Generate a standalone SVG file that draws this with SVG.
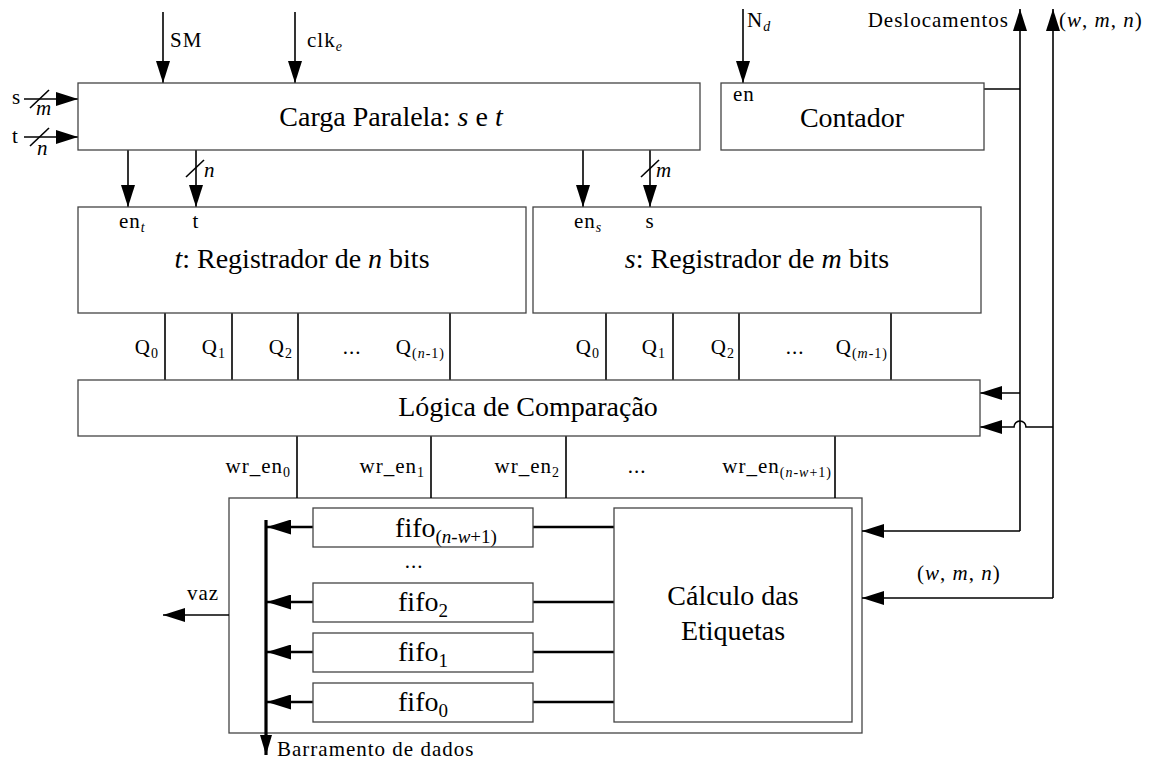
<svg xmlns="http://www.w3.org/2000/svg" width="1157" height="760" viewBox="0 0 1157 760" font-family="'Liberation Serif', 'DejaVu Serif', serif">
<style>
text{font-family:'Liberation Serif','DejaVu Serif',serif;fill:#000}
.big{font-size:28px}
.sm{font-size:21px;letter-spacing:1px}
.mid{text-anchor:middle}
.end{text-anchor:end}
.sub{font-size:14px}
.bsub{font-size:19px}
.it{font-style:italic}
.box{fill:#fff;stroke:#444;stroke-width:1.3}
.frame{fill:none;stroke:#444;stroke-width:1.3}
.ln{fill:none;stroke:#000;stroke-width:1.6}
.thick{fill:none;stroke:#000;stroke-width:2.6}
.bus{fill:none;stroke:#000;stroke-width:3.2}
.slash{stroke:#000;stroke-width:1.6}
</style>
<defs>
<marker id="ah" markerUnits="userSpaceOnUse" markerWidth="23" markerHeight="14" refX="22" refY="7" orient="auto">
<path d="M0,0 L22,7 L0,14 z" fill="#000"/>
</marker>
<marker id="ahf" markerUnits="userSpaceOnUse" markerWidth="25" markerHeight="15" refX="24" refY="7.5" orient="auto">
<path d="M0,0 L24,7.5 L0,15 z" fill="#000"/>
</marker>
<marker id="ahs" markerUnits="userSpaceOnUse" markerWidth="21" markerHeight="12" refX="20" refY="6" orient="auto">
<path d="M0,0 L20,6 L0,12 z" fill="#000"/>
</marker>
</defs>
<rect width="1157" height="760" fill="#fff"/>

<g id="fifo-bloco">
<rect class="frame" x="229" y="498" width="633" height="235"/>
</g>

<g id="connectors">
<line class="ln" x1="163" y1="12" x2="163" y2="83" marker-end="url(#ah)"/>
<line class="ln" x1="295" y1="12" x2="295" y2="83" marker-end="url(#ah)"/>
<line class="ln" x1="743" y1="9" x2="743" y2="83" marker-end="url(#ah)"/>
<line class="ln" x1="24" y1="99" x2="78" y2="99" marker-end="url(#ah)"/>
<line class="slash" x1="30" y1="108" x2="49" y2="90"/>
<line class="ln" x1="24" y1="137" x2="78" y2="137" marker-end="url(#ah)"/>
<line class="slash" x1="30" y1="146" x2="49" y2="128"/>
<line class="ln" x1="128" y1="150" x2="128" y2="207" marker-end="url(#ah)"/>
<line class="ln" x1="196" y1="150" x2="196" y2="207" marker-end="url(#ah)"/>
<line class="slash" x1="186" y1="177" x2="204" y2="160"/>
<line class="ln" x1="583" y1="150" x2="583" y2="207" marker-end="url(#ah)"/>
<line class="ln" x1="650" y1="150" x2="650" y2="207" marker-end="url(#ah)"/>
<line class="slash" x1="641" y1="177" x2="659" y2="160"/>
<path class="ln" d="M165,313V380M232,313V380M298,313V380M450,313V380M606,313V380M673,313V380M739,313V380M891,313V380"/>
<path class="ln" d="M297,436V498M431,436V498M566,436V498M835,436V498"/>
<line class="ln" x1="1020" y1="531" x2="1020" y2="9" marker-end="url(#ah)"/>
<line class="ln" x1="984" y1="89" x2="1020" y2="89"/>
<line class="ln" x1="1020" y1="393" x2="980" y2="393" marker-end="url(#ah)"/>
<line class="ln" x1="1020" y1="531" x2="862" y2="531" marker-end="url(#ah)"/>
<line class="ln" x1="1053" y1="598" x2="1053" y2="9" marker-end="url(#ah)"/>
<path class="ln" d="M1053,427H1026A6,6 0 0 0 1014,427H980" marker-end="url(#ah)"/>
<line class="ln" x1="1053" y1="598" x2="862" y2="598" marker-end="url(#ah)"/>
<line class="thick" x1="313" y1="527" x2="267" y2="527" marker-end="url(#ahf)"/>
<line class="thick" x1="313" y1="602" x2="267" y2="602" marker-end="url(#ahf)"/>
<line class="thick" x1="313" y1="652" x2="267" y2="652" marker-end="url(#ahf)"/>
<line class="thick" x1="313" y1="702" x2="267" y2="702" marker-end="url(#ahf)"/>
<path class="thick" d="M533,527H614M533,602H614M533,652H614M533,702H614"/>
<line class="bus" x1="266" y1="520" x2="266" y2="755" marker-end="url(#ahs)"/>
<line class="ln" x1="229" y1="615" x2="163" y2="615" marker-end="url(#ah)"/>
</g>

<g id="carga">
<rect class="box" x="78" y="83" width="622" height="67"/>
<text class="big mid" x="391" y="126">Carga Paralela: <tspan class="it">s</tspan> e <tspan class="it">t</tspan></text>
</g>
<g id="contador">
<rect class="box" x="721" y="83" width="263" height="67"/>
<text class="sm" x="733" y="101">en</text>
<text class="big mid" x="852" y="127">Contador</text>
</g>
<g id="reg-t">
<rect class="box" x="78" y="207" width="448" height="106"/>
<text class="sm" x="119" y="228">en<tspan class="sub it" dy="4">t</tspan></text>
<text class="sm mid" x="196" y="228">t</text>
<text class="big mid" x="302" y="268"><tspan class="it">t</tspan>: Registrador de <tspan class="it">n</tspan> bits</text>
</g>
<g id="reg-s">
<rect class="box" x="533" y="207" width="448" height="106"/>
<text class="sm" x="574" y="228">en<tspan class="sub it" dy="4">s</tspan></text>
<text class="sm mid" x="650" y="228">s</text>
<text class="big mid" x="757" y="268"><tspan class="it">s</tspan>: Registrador de <tspan class="it">m</tspan> bits</text>
</g>
<g id="logica">
<rect class="box" x="78" y="380" width="902" height="56"/>
<text class="big mid" x="528" y="416">Lógica de Comparação</text>
</g>
<g id="calculo">
<rect class="box" x="614" y="508" width="238" height="214"/>
<text class="big mid" x="733" y="605">Cálculo das</text>
<text class="big mid" x="733" y="640">Etiquetas</text>
</g>
<g id="fifo-nw1">
<rect class="box" x="313" y="508" width="220" height="39"/>
<text class="big mid" x="446" y="537">fifo<tspan class="bsub" dy="6">(<tspan class="it">n</tspan>-<tspan class="it">w</tspan>+1)</tspan></text>
</g>
<g id="fifo-2">
<rect class="box" x="313" y="583" width="220" height="39"/>
<text class="big mid" x="423" y="611">fifo<tspan class="bsub" dy="6">2</tspan></text>
</g>
<g id="fifo-1">
<rect class="box" x="313" y="633" width="220" height="39"/>
<text class="big mid" x="423" y="661">fifo<tspan class="bsub" dy="6">1</tspan></text>
</g>
<g id="fifo-0">
<rect class="box" x="313" y="683" width="220" height="39"/>
<text class="big mid" x="423" y="711">fifo<tspan class="bsub" dy="6">0</tspan></text>
</g>

<g id="labels">
<text class="sm" x="170" y="47">SM</text>
<text class="sm" x="307" y="47">clk<tspan class="sub it" dy="4">e</tspan></text>
<text class="sm" x="747" y="27">N<tspan class="sub it" dy="4">d</tspan></text>
<text class="sm" x="12" y="104">s</text>
<text class="sm" x="12" y="143">t</text>
<text class="sm it" x="36" y="115">m</text>
<text class="sm it" x="37" y="155">n</text>
<text class="sm it" x="204" y="177">n</text>
<text class="sm it" x="656" y="177">m</text>
<text class="sm end" x="1009" y="27">Deslocamentos</text>
<text class="sm" x="1059" y="27">(<tspan class="it">w</tspan>, <tspan class="it">m</tspan>, <tspan class="it">n</tspan>)</text>
<text class="sm" x="917" y="580">(<tspan class="it">w</tspan>, <tspan class="it">m</tspan>, <tspan class="it">n</tspan>)</text>
<text class="sm end" x="159" y="354">Q<tspan class="sub" dy="4">0</tspan></text>
<text class="sm end" x="226" y="354">Q<tspan class="sub" dy="4">1</tspan></text>
<text class="sm end" x="293" y="354">Q<tspan class="sub" dy="4">2</tspan></text>
<text class="sm mid" x="352" y="354">...</text>
<text class="sm end" x="445" y="354">Q<tspan class="sub" dy="4">(<tspan class="it">n</tspan>-1)</tspan></text>
<text class="sm end" x="600" y="354">Q<tspan class="sub" dy="4">0</tspan></text>
<text class="sm end" x="666" y="354">Q<tspan class="sub" dy="4">1</tspan></text>
<text class="sm end" x="735" y="354">Q<tspan class="sub" dy="4">2</tspan></text>
<text class="sm mid" x="795" y="354">...</text>
<text class="sm end" x="888" y="354">Q<tspan class="sub" dy="4">(<tspan class="it">m</tspan>-1)</tspan></text>
<text class="sm end" x="291" y="473">wr_en<tspan class="sub" dy="4">0</tspan></text>
<text class="sm end" x="425" y="473">wr_en<tspan class="sub" dy="4">1</tspan></text>
<text class="sm end" x="560" y="473">wr_en<tspan class="sub" dy="4">2</tspan></text>
<text class="sm mid" x="637" y="473">...</text>
<text class="sm end" x="832" y="473">wr_en<tspan class="sub" dy="4">(<tspan class="it">n</tspan>-<tspan class="it">w</tspan>+1)</tspan></text>
<text class="sm mid" x="414" y="568">...</text>
<text class="sm" x="187" y="600">vaz</text>
<text class="sm" x="277" y="756">Barramento de dados</text>
</g>
</svg>
